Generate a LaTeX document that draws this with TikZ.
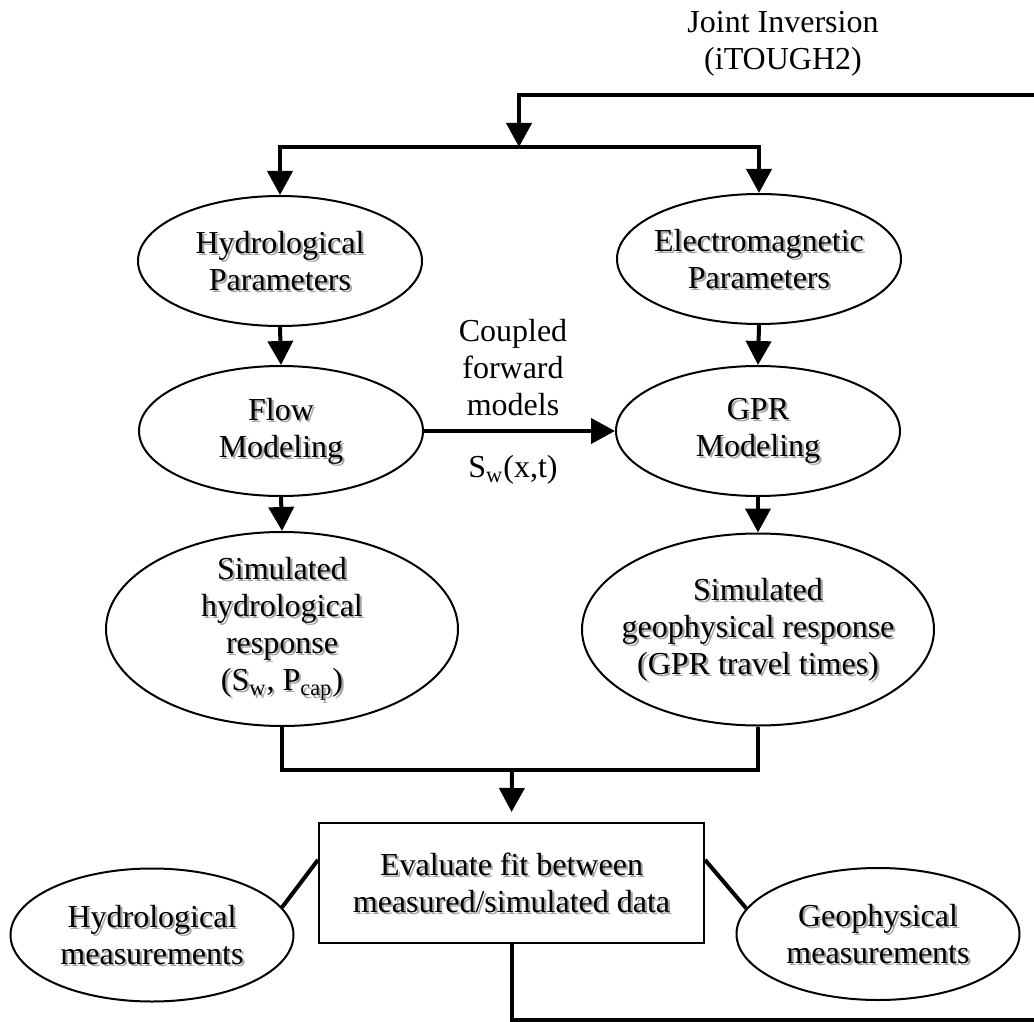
\documentclass[tikz,border=0pt]{standalone}
\usepackage{fontspec}
\setmainfont{Liberation Serif}
\usetikzlibrary{shapes.geometric,arrows.meta,calc}
\begin{document}
\begin{tikzpicture}[x=0.5pt,y=-0.5pt,
  font=\fontsize{16}{18.5}\selectfont,
  ell/.style={ellipse,draw,line width=1pt,inner sep=0pt},
  shlbl/.style={text=black!35,align=center,inner sep=0pt,xshift=1.1pt,yshift=-1.1pt},
  txlbl/.style={align=center,inner sep=0pt},
  stext/.style={label={[shlbl]center:{#1}},label={[txlbl]center:{#1}}},
  conn/.style={line width=2pt,line join=miter},
  arr/.style={conn,-{Triangle[width=12.5pt,length=12pt]}},
  plain/.style={align=center,inner sep=0pt}]
\fill[white] (0,0) rectangle (1034,1022);
\useasboundingbox (0,0) rectangle (1034,1022);

\node[plain] (title) at (783,44) {Joint Inversion\\(iTOUGH2)};

\node[ell,minimum width=142pt,minimum height=65pt,stext={Hydrological\\Parameters}] (HP) at (280,261) {};
\node[ell,minimum width=142pt,minimum height=65pt,stext={Electromagnetic\\Parameters}] (EP) at (759,259) {};
\node[ell,minimum width=142pt,minimum height=65pt,stext={Flow\\Modeling}] (FM) at (281,431) {};
\node[ell,minimum width=142pt,minimum height=65pt,stext={GPR\\Modeling}] (GPR) at (758,431) {};
\node[ell,minimum width=176pt,minimum height=97pt,stext={Simulated\\hydrological\\response\\(S\textsubscript{w}, P\textsubscript{cap})}] (SHR) at (282,629) {};
\node[ell,minimum width=176pt,minimum height=96pt,stext={Simulated\\geophysical response\\(GPR travel times)}] (SGR) at (758,629.5) {};
\node[draw,line width=1pt,minimum width=192.5pt,minimum height=60pt,inner sep=0pt,stext={Evaluate fit between\\measured/simulated data}] (EV) at (511.5,883) {};
\node[ell,minimum width=141.5pt,minimum height=66.5pt,stext={Hydrological\\measurements}] (HM) at (152,935) {};
\node[ell,minimum width=141.5pt,minimum height=66pt,stext={Geophysical\\measurements}] (GEO) at (878,934) {};

\node[plain] (cpl) at (513,368) {Coupled\\forward\\models};
\node[plain] (sw) at (513,470) {S\textsubscript{w}(x,t)};

\coordinate (tr) at (1034,95);
\coordinate (j1) at (519,147);
\coordinate (m) at (512,770);
\coordinate (br) at (1034,1020);

\draw[arr] (tr) -| (j1);
\draw[arr] (j1) -| (HP.north);
\draw[arr] (j1) -| (EP.north);
\draw[arr] (HP.south) -- (FM.north);
\draw[arr] (EP.south) -- (GPR.north);
\draw[arr] (FM.east) -- (GPR.west);
\draw[arr] (FM.south) -- (SHR.north);
\draw[arr] (GPR.south) -- (SGR.north);
\draw[conn] (SHR.south) |- (m) -| (SGR.south);
\draw[arr,shorten >=5pt] (m) -- (EV.north);
\draw[conn] ($(EV.north west)!0.31!(EV.south west)$) -- (HM.12);
\draw[conn] ($(EV.north east)!0.31!(EV.south east)$) -- (GEO.169);
\draw[conn] (EV.south) |- (br);
\end{tikzpicture}
\end{document}
